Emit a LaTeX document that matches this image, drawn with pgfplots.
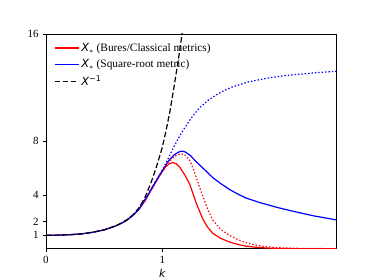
\documentclass[border=0pt]{standalone}
\usepackage{pgfplots}
\pgfplotsset{compat=1.18}
\usepackage{fontspec}
\setmainfont{Liberation Serif}
\newfontfamily\dvs{DejaVu Sans}
\begin{document}
\begin{tikzpicture}[x=1pt,y=1pt]
\begin{axis}[
  at={(46pt,31.3pt)}, anchor=south west,
  scale only axis, width=290.7pt, height=214.7pt,
  xmin=0, xmax=2.5, ymin=0, ymax=16,
  xtick={0,1}, ytick={1,2,4,8,16},
  tick pos=left, tick align=outside,
  major tick length=3.3pt,
  axis line style={line width=0.8pt},
  every tick/.style={black, line width=0.8pt},
  /pgf/number format/assume math mode=true,
  ticklabel style={font=\fontsize{11}{13}\selectfont},
  xticklabel style={yshift=-1pt},
  yticklabel style={xshift=-0.5pt},
  xlabel={\dvs\itshape k},
  xlabel style={font=\fontsize{11}{13}\selectfont, at={(axis description cs:0.4,0)}, anchor=north, yshift=-17pt},
  clip=true,
  legend cell align=left,
  legend style={draw=none, fill=none, at={(axis description cs:0.0,1)}, anchor=north west,
     xshift=5pt, yshift=-5pt,
     font=\fontsize{10.5}{12}\selectfont, row sep=2.5pt,
     /tikz/every even column/.append style={column sep=0pt}},
  legend image code/.code={\draw[#1] (0pt,0pt) -- (24pt,0pt);},
]
% red solid
\addplot[red, line width=1.2pt] coordinates {
(0,1.00)(0.1,1.01)(0.2,1.04)(0.3,1.10)(0.4,1.22)(0.5,1.40)(0.6,1.70)(0.65,1.90)(0.7,2.15)(0.75,2.50)(0.8,2.95)(0.85,3.55)(0.9,4.3)(0.95,5.05)(1.0,5.75)(1.03,6.1)(1.06,6.33)(1.09,6.42)(1.12,6.33)(1.15,6.08)(1.19,5.55)(1.234,4.85)(1.26,4.2)(1.29,3.45)(1.32,2.8)(1.35,2.2)(1.39,1.6)(1.434,1.15)(1.5,0.78)(1.577,0.50)(1.65,0.32)(1.72,0.19)(1.8,0.11)(1.9,0.05)(2.0,0.02)(2.2,0.0)(2.5,0)};
\addlegendentry{{\fontsize{11.3}{13}\selectfont{\dvs\itshape X}$_{*}$ (Bures/Classical metrics)}}
% blue solid
\addplot[blue, line width=1.2pt] coordinates {
(0,1.00)(0.1,1.01)(0.2,1.04)(0.3,1.10)(0.4,1.22)(0.5,1.40)(0.6,1.70)(0.65,1.90)(0.7,2.15)(0.75,2.50)(0.8,2.95)(0.85,3.6)(0.9,4.35)(0.95,5.1)(1.0,5.8)(1.05,6.5)(1.1,6.98)(1.14,7.2)(1.17,7.27)(1.2,7.2)(1.24,6.95)(1.29,6.5)(1.35,6.0)(1.434,5.3)(1.5,4.87)(1.577,4.42)(1.65,4.07)(1.72,3.78)(1.834,3.45)(1.95,3.17)(2.0,3.05)(2.12,2.8)(2.3,2.45)(2.5,2.14)};
\addlegendentry{{\fontsize{11.3}{13}\selectfont{\dvs\itshape X}$_{*}$ (Square-root metric)}}
% black dashed
\addplot[black, line width=1.2pt, dash pattern=on 5.5pt off 2.5pt] coordinates {
(0,1.00)(0.1,1.01)(0.2,1.04)(0.3,1.10)(0.4,1.22)(0.5,1.40)(0.6,1.70)(0.65,1.92)(0.7,2.18)(0.75,2.55)(0.8,3.05)(0.85,3.8)(0.9,4.85)(0.95,6.1)(1.0,7.55)(1.035,8.9)(1.065,10.2)(1.1,12.0)(1.14,14.2)(1.17,16.0)(1.2,17.8)};
\addlegendentry{{\fontsize{11.3}{13}\selectfont{\dvs\itshape X}\textsuperscript{\dvs −1}}}
% red dotted
\addplot[red, line width=1.2pt, dash pattern=on 1.4pt off 2pt, forget plot] coordinates {
(0.8,2.95)(0.85,3.6)(0.9,4.35)(0.95,5.1)(1.0,5.8)(1.05,6.42)(1.1,6.85)(1.15,7.07)(1.19,7.03)(1.234,6.6)(1.26,6.1)(1.29,5.37)(1.32,4.6)(1.35,3.88)(1.39,2.95)(1.434,2.14)(1.5,1.45)(1.577,1.0)(1.65,0.68)(1.72,0.45)(1.8,0.28)(1.86,0.19)(1.95,0.1)(2.05,0.05)(2.2,0.02)(2.5,0)};
% blue dotted
\addplot[blue, line width=1.2pt, dash pattern=on 1.4pt off 2pt, forget plot] coordinates {
(0.8,2.95)(0.85,3.65)(0.9,4.4)(0.95,5.12)(1.0,5.85)(1.05,6.7)(1.1,7.6)(1.15,8.4)(1.2,9.1)(1.25,9.75)(1.32,10.5)(1.4,11.1)(1.5,11.65)(1.6,12.05)(1.75,12.45)(1.9,12.7)(2.05,12.9)(2.2,13.02)(2.35,13.13)(2.5,13.22)};
\end{axis}
\pgfresetboundingbox
\path (0pt,0pt) rectangle (374pt,280pt);
\end{tikzpicture}
\end{document}
